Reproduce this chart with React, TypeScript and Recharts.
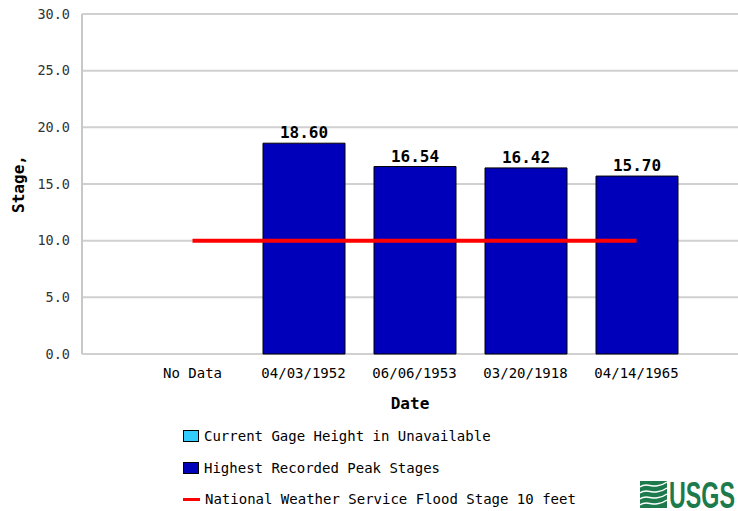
import React from 'react';
import { ComposedChart, Bar, Line, XAxis, YAxis, CartesianGrid, LabelList, Legend } from 'recharts';

const categories = ['No Data', '04/03/1952', '06/06/1953', '03/20/1918', '04/14/1965'];
const peakStages: (number | null)[] = [null, 18.6, 16.54, 16.42, 15.7];
const floodStage = [10, 10, 10, 10, 10];
const yTicks = [0, 5, 10, 15, 20, 25, 30];
const legendItems = [
  { label: 'Current Gage Height in Unavailable', kind: 'box', color: '#33ccff' },
  { label: 'Highest Recorded Peak Stages', kind: 'box', color: '#0000bb' },
  { label: 'National Weather Service Flood Stage 10 feet', kind: 'line', color: '#ff0000' },
];

const data = categories.map((c, i) => ({ date: c, peak: peakStages[i], flood: floodStage[i] }));

const FONT = "'DejaVu Sans Mono', monospace";

const renderLegend = () => (
  <div style={{ position: 'relative', width: 738, height: 91, fontFamily: FONT }}>
    {legendItems.map((it, i) => (
      <div key={it.label} style={{ position: 'absolute', left: 183, top: 9 + i * 31.5, height: 14, display: 'flex', alignItems: 'center' }}>
        {it.kind === 'box' ? (
          <div style={{ width: 16, height: 12, background: it.color, border: '1px solid #000', boxSizing: 'border-box' }} />
        ) : (
          <div style={{ width: 17, height: 3, background: it.color }} />
        )}
        <span style={{ marginLeft: 5, fontSize: 14, color: '#000', whiteSpace: 'nowrap' }}>{it.label}</span>
      </div>
    ))}
    <svg width={98} height={34} style={{ position: 'absolute', left: 640, top: 57 }}>
      <rect x={0} y={4} width={27} height={27} fill="#1d7a4c" />
      {[10, 16, 22, 28].map((y, k) => (
        <path key={k} d={`M0 ${y} C 7 ${y - 6}, 14 ${y + 4}, 27 ${y - 5}`} stroke="#fff" strokeWidth={1.5} fill="none" />
      ))}
      <text x={29} y={31} fill="#1d7a4c" fontFamily="'Liberation Sans Narrow', 'Liberation Sans', sans-serif" fontWeight="bold" fontSize={36} textLength={66} lengthAdjust="spacingAndGlyphs">USGS</text>
    </svg>
  </div>
);

export default function App() {
  return (
    <div style={{ position: 'absolute', left: 0, top: 0 }}>
      <ComposedChart
        width={738}
        height={511}
        data={data}
        margin={{ top: 14, right: 0, left: 12, bottom: 36 }}
        style={{ fontFamily: FONT }}
      >
        <CartesianGrid vertical={false} stroke="#d0d0d0" strokeWidth={2} />
        <XAxis
          dataKey="date"
          axisLine={false}
          tickLine={false}
          padding={{ left: 55, right: 46 }}
          tick={{ fill: '#000', fontSize: 14 }}
          tickMargin={8}
          height={30}
          label={{ value: 'Date', position: 'bottom', offset: 14, fill: '#000', fontSize: 16, fontWeight: 'bold' }}
        />
        <YAxis
          width={70}
          domain={[0, 30]}
          ticks={yTicks}
          tickFormatter={(v: number) => v.toFixed(1)}
          tickLine={false}
          axisLine={{ stroke: '#c8c8c8', strokeWidth: 2 }}
          tick={{ fill: '#333', fontSize: 13.5 }}
          tickMargin={6}
          label={{ value: 'Stage,', angle: -90, position: 'insideLeft', offset: 6, fill: '#000', fontSize: 16, fontWeight: 'bold', style: { textAnchor: 'middle' } }}
        />
        <Bar dataKey="peak" fill="#0000bb" stroke="#000" strokeWidth={1} barSize={82} isAnimationActive={false}>
          <LabelList
            dataKey="peak"
            position="top"
            offset={5}
            formatter={(v: any) => (v == null ? '' : Number(v).toFixed(2))}
            style={{ fill: '#000', fontSize: 16, fontWeight: 'bold', fontFamily: FONT }}
          />
        </Bar>
        <Line dataKey="flood" stroke="#ff0000" strokeWidth={4} dot={false} activeDot={false} isAnimationActive={false} legendType="none" />
        <Legend content={renderLegend} wrapperStyle={{ position: 'absolute', left: 0, top: 420, width: 738, height: 91 }} />
      </ComposedChart>
    </div>
  );
}
